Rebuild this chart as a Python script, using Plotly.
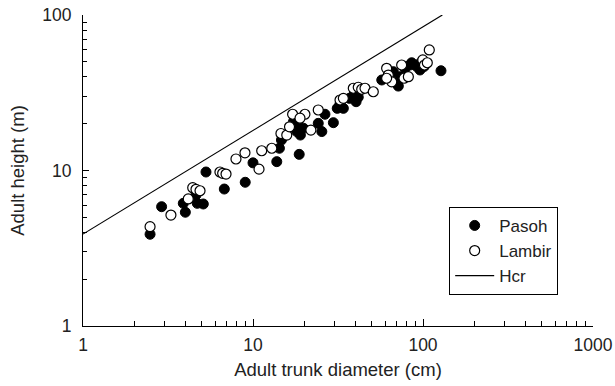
import plotly.graph_objects as go

# Pasoh (filled circles)
pasoh_d = [2.48, 2.90, 3.89, 4.0, 4.62, 4.70, 5.10, 5.29, 6.78, 9.0, 10.0, 13.8, 14.3, 15.1, 14.7,
           18.7, 17.3, 18.7, 19.8, 18.1, 19.0, 24.2, 25.4, 26.5, 29.7, 31.3, 34.0, 32.5, 36.9, 38.9,
           39.3, 41.6, 40.4, 57.2, 66.9, 71.6, 73.3, 78.4, 83.9, 85.8, 91.9, 96.0, 96.0, 101.4, 127.6]
pasoh_h = [3.89, 5.85, 6.15, 5.39, 6.96, 6.15, 6.09, 9.78, 7.60, 8.4, 11.2, 11.4, 13.9, 16.5, 15.7,
           12.7, 20.6, 18.7, 18.7, 17.8, 16.9, 20.1, 17.8, 23.0, 20.3, 25.1, 25.1, 26.8, 29.1, 29.9,
           31.0, 29.6, 27.7, 38.2, 43.2, 34.9, 40.1, 45.4, 47.7, 49.3, 46.6, 44.3, 48.9, 46.6, 43.8]

# Lambir (open circles)
lambir_d = [2.48, 3.29, 4.16, 4.42, 4.62, 4.88, 6.39, 6.63, 6.94, 7.94, 8.97, 10.85, 11.25, 12.9,
            14.6, 15.8, 16.4, 17.1, 20.2, 18.9, 21.9, 24.2, 32.5, 34.0, 38.9, 41.6, 43.6, 45.6, 51.0,
            61.1, 62.5, 65.5, 61.1, 74.9, 77.3, 82.0, 99.7, 102.0, 106.0, 108.9]
lambir_h = [4.35, 5.17, 6.56, 7.75, 7.57, 7.41, 9.78, 9.59, 9.49, 11.86, 13.0, 10.2, 13.4, 13.9,
            17.3, 16.9, 19.1, 23.0, 23.0, 21.7, 18.2, 24.5, 28.4, 29.1, 33.8, 34.3, 33.3, 33.8, 32.1,
            45.4, 41.1, 37.2, 39.2, 47.7, 39.2, 40.1, 51.4, 47.7, 49.3, 59.6]

# Hcr line endpoints
hcr_d = [1, 130]
hcr_h = [3.9, 100]

x_ticks = [1, 10, 100, 1000]
y_ticks = [1, 10, 100]

fig = go.Figure()
fig.add_trace(go.Scatter(x=pasoh_d, y=pasoh_h, mode="markers", name="Pasoh",
                         marker=dict(symbol="circle", size=10, color="black",
                                     line=dict(color="black", width=1))))
fig.add_trace(go.Scatter(x=lambir_d, y=lambir_h, mode="markers", name="Lambir",
                         marker=dict(symbol="circle", size=10, color="white",
                                     line=dict(color="black", width=1.2))))
fig.add_trace(go.Scatter(x=hcr_d, y=hcr_h, mode="lines", name="Hcr",
                         line=dict(color="black", width=1.2)))

minor_x = [m * 10 ** e for e in range(0, 3) for m in range(2, 10)]
minor_y = [m * 10 ** e for e in range(0, 2) for m in range(2, 10)]

FAM = "Liberation Sans, Arial, sans-serif"
TXT = "#222"

fig.update_layout(
    width=615, height=386,
    margin=dict(l=83, r=22, t=15, b=60),
    paper_bgcolor="white", plot_bgcolor="white",
    font=dict(family=FAM, size=16, color=TXT),
    showlegend=True,
    legend=dict(x=0.718, y=0.383, xanchor="left", yanchor="top",
                bordercolor="black", borderwidth=1, bgcolor="white",
                font=dict(family=FAM, size=17, color=TXT), itemwidth=39, tracegroupgap=0),
    xaxis=dict(type="log", range=[0, 3], tickvals=x_ticks, ticktext=[str(v) for v in x_ticks],
               ticks="inside", ticklen=7, tickwidth=1, tickcolor="black",
               minor=dict(tickvals=minor_x, ticks="inside", ticklen=5, tickwidth=1, tickcolor="black"),
               showline=True, linecolor="black", linewidth=1.2, showgrid=False, zeroline=False,
               automargin=False, tickfont=dict(family=FAM, size=17.5, color=TXT),
               title=dict(text="Adult trunk diameter (cm)", standoff=8,
                          font=dict(family=FAM, size=18.5, color=TXT)),
               ticklabelstandoff=3),
    yaxis=dict(type="log", range=[0, 2], tickvals=y_ticks, ticktext=[str(v) for v in y_ticks],
               ticks="inside", ticklen=6, tickwidth=1, tickcolor="black",
               minor=dict(tickvals=minor_y, ticks="inside", ticklen=4, tickwidth=1, tickcolor="black"),
               showline=True, linecolor="black", linewidth=1.2, showgrid=False, zeroline=False,
               automargin=False, tickfont=dict(family=FAM, size=17.5, color=TXT),
               title=dict(text="Adult height (m)", standoff=12,
                          font=dict(family=FAM, size=18.5, color=TXT)),
               ticklabelstandoff=7),
)

fig.write_html("out.html", config={"displayModeBar": False},
               post_script="document.body.style.margin='0px';")
